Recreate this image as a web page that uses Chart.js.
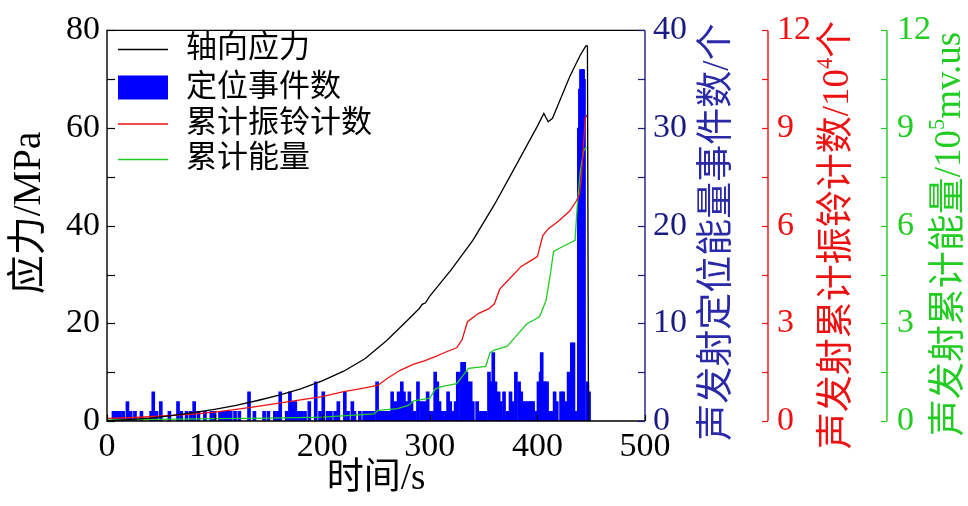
<!DOCTYPE html>
<html><head><meta charset="utf-8">
<script src="https://cdn.jsdelivr.net/npm/chart.js@4.4.0/dist/chart.umd.min.js"></script>
<style>html,body{margin:0;padding:0;background:#fff}canvas{display:block}</style>
</head><body><canvas id="c" width="968" height="506"></canvas>
<script>
// ---------------- data ----------------
const stressTime   = [0,20,40,60,80,100,120,140,160,180,200,220,240,260,280,290,293,296,300,320,340,360,380,400,406,410,414,420,430,440,445,446.5,447.5];
const stressValues = [0,0.3,0.6,1.1,1.7,2.4,3.2,4.2,5.3,6.6,8.2,10.2,12.8,16.5,20.8,23.0,23.9,24.2,25.6,31.0,37.0,44.3,52.3,60.4,63.0,61.3,62.0,65.2,70.5,75.0,76.8,76.8,0];

const eventTime = [
  6,9,12,15,19,22,26,32,41,43,46,50,58,66,69,74,78,81,85,91,97,100,105,107,109,111,113,
  115,119,123,132,137,146,150,156,159,161,167,170,171,173,175,178,181,184,188,194,198,201,205,208,212,215,221,224,
  228,230,235,239,242,245,248,251,253,255,257,259,261,263,265,268,271,274,276,278,281,283,286,289,292,295,298,300,303,305,
  307,309,312,315,317,319,322,324,326,329,330,332,334,336,338,340,
  344,347,350,352,355,357,359,361,364,366,369,372,375,377,380,383,385,387,389,392,
  394,396,399,401,403,404,406,407,409,411,413,416,418,422,424,426,429,432,433.5,435.5,
  438.5,439.5,440.5,441.5,442.5,443.3,446.5,448];
const eventCounts = [
  1,1,1,1,2,1,1,1,1,3,1,2,1,2,1,1,1,2,1,1,1,1,1,1,1,1,1,
  1,1,1,3,1,1,1,1,1,3,1,3,2,2,2,1,1,1,2,4,1,3,1,1,1,2,3,1,
  2,1,1,1,1,1,1,4,1,1,1,1,1,1,3,2,3,4,3,2,3,2,1,4,2,2,3,1,1,5,
  4,2,1,1,3,2,1,2,5,5,6,6,5,4,4,2,
  2,1,1,1,5,4,7,4,3,2,3,1,3,2,5,4,3,2,2,2,
  2,2,1,4,5,7,4,4,4,1,1,3,2,3,3,2,5,8,8,1,
  30,34,36,36,36,35,4,3];

const ringTime   = [0,20,40,60,80,100,120,140,160,180,200,220,240,252,260,272,285,295,305,315,325,330,335,345,355,360,365,375,385,395,400,405,410,420,430,436,439,441,443,444.5,446];
const ringValues = [0.08,0.1,0.13,0.17,0.21,0.27,0.36,0.45,0.55,0.65,0.75,0.9,1.02,1.1,1.3,1.55,1.75,1.85,1.98,2.12,2.25,2.5,3.05,3.3,3.45,3.6,4.05,4.4,4.75,4.95,5.05,5.7,5.9,6.15,6.45,6.75,6.95,7.5,8.6,9.3,9.4];

const energyTime   = [0,50,100,150,200,230,248,252,270,280,285,300,305,310,325,332,336,352,356,360,372,380,390,402,408,412,415,420,435,437,440,443,445,446];
const energyValues = [0.03,0.05,0.07,0.09,0.12,0.18,0.22,0.33,0.38,0.48,0.62,0.7,0.98,1.05,1.15,1.45,1.62,1.68,2.1,2.18,2.3,2.6,2.98,3.2,3.7,4.5,5.2,5.3,5.55,6.6,7.7,8.3,8.4,8.4];

const seriesLabels = ['轴向应力','定位事件数','累计振铃计数','累计能量'];
const xTitle = '时间/s';
const yTitle = '应力/MPa';
const evtTitle = [{t:'声发射定位能量事件数/个'}];
const ringTitle = [{t:'声发射累计振铃计数/10'},{t:'4',sup:true},{t:'个'}];
const energyTitle = [{t:'声发射累计能量/10'},{t:'5',sup:true},{t:'mv.us'}];

// ---------------- styling ----------------
const FONT = '"Liberation Serif", "Noto Sans CJK SC", serif';
const NAVY = '#1a1a80', BLUE_T = '#2a2aa8', RED = '#ee1111', GREEN = '#22cc22';
const pairs = (xs, ys) => xs.map((x, i) => ({x, y: ys[i]}));

function drawRuns(ctx, runs, cx, cy, rot, size, color) {
  ctx.save();
  ctx.translate(cx, cy); ctx.rotate(rot);
  ctx.fillStyle = color; ctx.textBaseline = 'middle'; ctx.textAlign = 'left';
  let total = 0;
  runs.forEach(r => { ctx.font = (r.sup ? size*0.6 : size) + 'px ' + FONT; r.w = ctx.measureText(r.t).width; total += r.w; });
  let x = -total/2;
  runs.forEach(r => { ctx.font = (r.sup ? size*0.6 : size) + 'px ' + FONT; ctx.fillText(r.t, x, r.sup ? -size*0.32 : 0); x += r.w; });
  ctx.restore();
}

function yTicks(ctx, scale, step, xEdge, dir, len, color) {
  ctx.strokeStyle = color;
  for (let v = scale.min; v <= scale.max + 1e-9; v += step) {
    const y = Math.round(scale.getPixelForValue(v)) + 0.5;
    ctx.beginPath(); ctx.moveTo(xEdge, y); ctx.lineTo(xEdge + dir*len, y); ctx.stroke();
  }
}

const decor = {
  id: 'decor',
  afterDraw(chart) {
    const ctx = chart.ctx, a = chart.chartArea, s = chart.scales;
    ctx.save();
    ctx.lineWidth = 1.4;
    ctx.strokeStyle = '#000';
    ctx.beginPath(); ctx.moveTo(a.right, a.top); ctx.lineTo(a.left, a.top); ctx.lineTo(a.left, a.bottom); ctx.lineTo(a.right, a.bottom); ctx.stroke();
    ctx.strokeStyle = NAVY;
    ctx.beginPath(); ctx.moveTo(a.right, a.top); ctx.lineTo(a.right, a.bottom); ctx.stroke();
    const xr = s.yRing.left, xg = s.yEnergy.left;
    ctx.strokeStyle = RED; ctx.beginPath(); ctx.moveTo(xr, a.top); ctx.lineTo(xr, a.bottom); ctx.stroke();
    ctx.strokeStyle = GREEN; ctx.beginPath(); ctx.moveTo(xg, a.top); ctx.lineTo(xg, a.bottom); ctx.stroke();
    ctx.lineWidth = 1.2;
    yTicks(ctx, s.y, 10, a.left, 1, 8, '#000');
    yTicks(ctx, s.yEvt, 5, a.right, -1, 7, NAVY);
    yTicks(ctx, s.yRing, 1.5, xr, -1, 6, RED);
    yTicks(ctx, s.yEnergy, 1.5, xg, -1, 6, GREEN);
    ctx.strokeStyle = '#000';
    for (let v = s.x.min; v <= s.x.max; v += 100) {
      const x = Math.round(s.x.getPixelForValue(v)) + 0.5;
      ctx.beginPath(); ctx.moveTo(x, a.bottom); ctx.lineTo(x, a.bottom - 6); ctx.stroke();
    }
    // legend
    const ds = chart.data.datasets;
    const rows = [49, 87.5, 123.5, 159];
    const lx0 = a.left + 11, lx1 = a.left + 61, tx = a.left + 79;
    ds.forEach((d, i) => {
      const y = rows[i];
      if (d.type === 'bar') {
        ctx.fillStyle = d.backgroundColor; ctx.fillRect(lx0, y - 12, lx1 - lx0, 24);
      } else {
        ctx.strokeStyle = d.borderColor; ctx.lineWidth = 1.3;
        ctx.beginPath(); ctx.moveTo(lx0, y + 0.5); ctx.lineTo(lx1, y + 0.5); ctx.stroke();
      }
      ctx.fillStyle = '#000'; ctx.font = '31px ' + FONT; ctx.textBaseline = 'middle'; ctx.textAlign = 'left';
      ctx.fillText(d.label, tx, y);
    });
    // axis titles
    drawRuns(ctx, [{t: xTitle}], (a.left + a.right)/2, 479, 0, 37, '#000');
    drawRuns(ctx, [{t: yTitle}], 30, 213, -Math.PI/2, 39, '#000');
    drawRuns(ctx, evtTitle, 718, 232, -Math.PI/2, 37, BLUE_T);
    drawRuns(ctx, ringTitle, 838, 235, -Math.PI/2, 37, RED);
    drawRuns(ctx, energyTitle, 950, 234, -Math.PI/2, 37, GREEN);
    ctx.restore();
  }
};

const tickFont = {family: FONT, size: 34};
new Chart(document.getElementById('c'), {
  type: 'line',
  data: {
    datasets: [
      {type: 'line', label: seriesLabels[0], data: pairs(stressTime, stressValues), yAxisID: 'y',
       borderColor: '#000', borderWidth: 1.3, pointRadius: 0, tension: 0, order: 0},
      {type: 'bar', label: seriesLabels[1], data: pairs(eventTime, eventCounts), yAxisID: 'yEvt',
       backgroundColor: '#0000ff', borderWidth: 0, barThickness: 3, order: 10},
      {type: 'line', label: seriesLabels[2], data: pairs(ringTime, ringValues), yAxisID: 'yRing',
       borderColor: RED, borderWidth: 1.3, pointRadius: 0, tension: 0, order: 1},
      {type: 'line', label: seriesLabels[3], data: pairs(energyTime, energyValues), yAxisID: 'yEnergy',
       borderColor: GREEN, borderWidth: 1.3, pointRadius: 0, tension: 0, order: 2}
    ]
  },
  options: {
    responsive: false, animation: false, devicePixelRatio: 1,
    layout: {padding: {top: 25, left: 0, right: 0, bottom: 0}},
    plugins: {legend: {display: false}, tooltip: {enabled: false}},
    scales: {
      x: {type: 'linear', min: 0, max: 500, offset: false,
          grid: {display: false, drawTicks: false}, border: {display: false},
          ticks: {stepSize: 100, color: '#000', font: tickFont, padding: 6, maxRotation: 0},
          afterFit(sc) { sc.height = 85; }},
      y: {position: 'left', min: 0, max: 80,
          grid: {display: false, drawTicks: false}, border: {display: false},
          ticks: {stepSize: 20, color: '#000', font: tickFont, padding: 7},
          afterFit(sc) { sc.width = 107; }},
      yEvt: {position: 'right', weight: 0, min: 0, max: 40,
          grid: {display: false, drawTicks: false}, border: {display: false},
          ticks: {stepSize: 10, color: NAVY, font: tickFont, padding: 8},
          afterFit(sc) { sc.width = 123; }},
      yRing: {position: 'right', weight: 1, min: 0, max: 12,
          grid: {display: false, drawTicks: false}, border: {display: false},
          ticks: {stepSize: 3, color: RED, font: tickFont, padding: 9},
          afterFit(sc) { sc.width = 119; }},
      yEnergy: {position: 'right', weight: 2, min: 0, max: 12,
          grid: {display: false, drawTicks: false}, border: {display: false},
          ticks: {stepSize: 3, color: GREEN, font: tickFont, padding: 10},
          afterFit(sc) { sc.width = 81; }}
    }
  },
  plugins: [decor]
});
</script>
</body></html>
